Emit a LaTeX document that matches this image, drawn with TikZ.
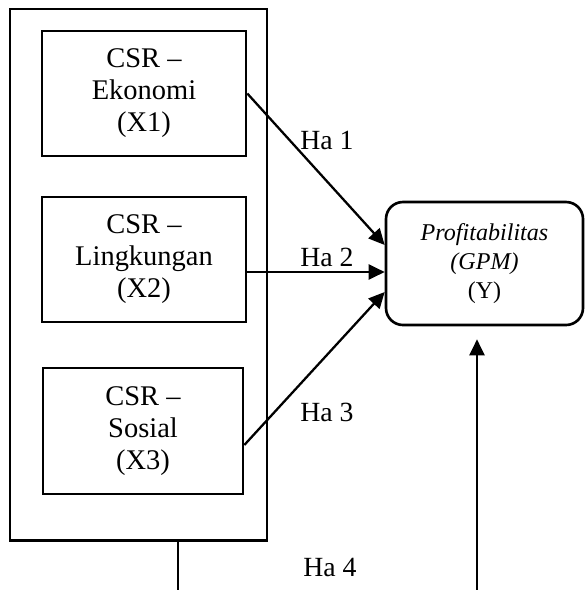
\documentclass[tikz,border=0pt]{standalone}
\usepackage{fontspec}
\setmainfont{Liberation Serif}
\usetikzlibrary{arrows.meta, positioning}

\begin{document}
\begin{tikzpicture}[
    box/.style={draw, line width=1.5pt, minimum width=4.08cm, minimum height=2.5cm, align=center, font=\fontsize{16.2}{18.2}\selectfont, execute at begin node={\rule{0pt}{16pt}}},
    arr/.style={-{Triangle[length=0.32cm, width=0.3cm]}, line width=1.3pt},
    lbl/.style={font=\fontsize{15.8}{18.2}\selectfont}
]
    \useasboundingbox (0,0) rectangle (11.72,-11.8);

    % kotak luar
    \node[draw, line width=1.7pt, inner sep=0pt, minimum width=5.14cm, minimum height=10.62cm] (outer) at (2.77,-5.49) {};

    % variabel independen
    \node[box] (x1) at (2.88,-1.87) {CSR \textendash\\Ekonomi\\(X1)};
    \node[box] (x2) at (2.88,-5.19) {CSR \textendash\\Lingkungan\\(X2)};
    \node[box, minimum width=4.0cm, minimum height=2.52cm] (x3) at (2.86,-8.62) {CSR \textendash\\Sosial\\(X3)};

    % variabel dependen
    \node[draw, line width=1.5pt, rounded corners=0.34cm, minimum width=3.94cm, minimum height=2.46cm, align=center, font=\fontsize{13.7}{16.6}\selectfont, execute at begin node={\rule{0pt}{15pt}}] (y) at (9.69,-5.27) {\textit{Profitabilitas}\\\textit{(GPM)}\\(Y)};

    % hipotesis
    \draw[arr] (x1.east) -- ([yshift=0.37cm]y.west);
    \draw[arr] ([yshift=-0.25cm]x2.east) coordinate (a2) -- (a2 -| y.west);
    \draw[arr] ([yshift=-0.28cm]x3.east) -- ([yshift=-0.57cm]y.west);

    % Ha 4
    \coordinate (b4) at (9.54,-11.8);
    \coordinate (t4) at ([yshift=-0.26cm]y.south);
    \coordinate (s4) at ([xshift=0.79cm]outer.south);
    \draw[line width=0.8pt] (s4) -- (s4 |- b4);
    \draw[arr] (b4) -- (b4 |- t4);

    % label
    \node[lbl] (ha1) at (6.54,-2.8) {Ha 1};
    \node[lbl] (ha2) at (6.54,-5.14) {Ha 2};
    \node[lbl] (ha3) at (6.54,-8.24) {Ha 3};
    \node[lbl] (ha4) at (6.6,-11.34) {Ha 4};
\end{tikzpicture}
\end{document}
